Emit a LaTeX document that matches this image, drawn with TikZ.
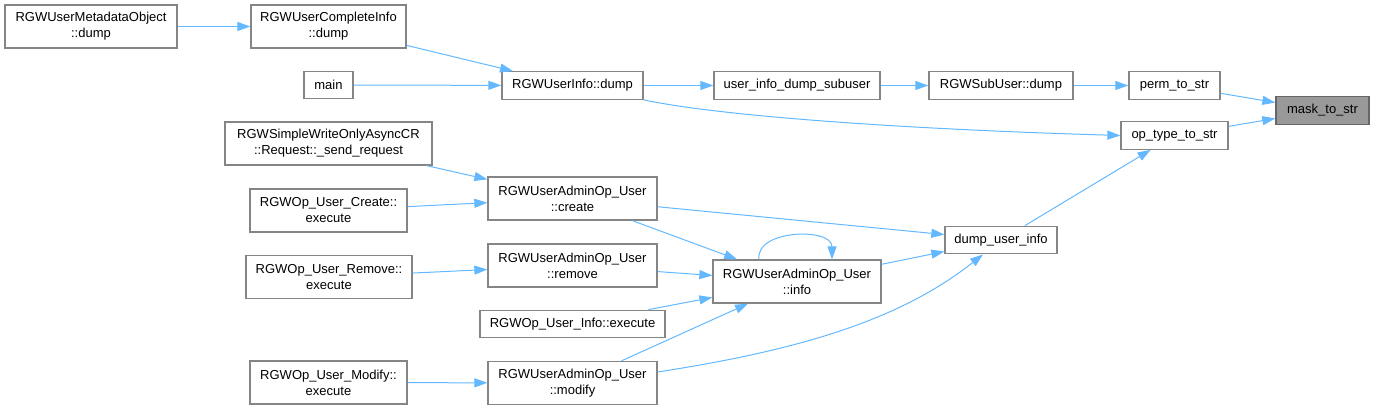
\documentclass[tikz,border=0pt]{standalone}
\usepackage{fontspec}
\setmainfont{Liberation Sans}
\usetikzlibrary{arrows.meta}
\definecolor{edgeblue}{HTML}{63B8FF}
\definecolor{nodegray}{HTML}{858585}
\definecolor{hilite}{HTML}{999999}
\begin{document}
\begin{tikzpicture}[x=1pt,y=-1pt,
  box/.style={draw=nodegray, fill=white, line width=1.3pt, inner sep=0pt, align=center,
    font=\fontsize{13}{16}\selectfont, text=black},
  tall/.style={box, minimum height=43pt},
  flat/.style={box, minimum height=27.5pt},
  edge/.style={draw=edgeblue, line width=1pt, -{Triangle[length=13pt,width=9pt]}}]
\useasboundingbox (0,0) rectangle (1375,409);

% column 1
\node[tall, minimum width=172pt] (meta) at (91,26.5) {RGWUserMetadataObject\\::dump};
% column 2
\node[tall, minimum width=155pt] (complete) at (328.5,26.5) {RGWUserCompleteInfo\\::dump};
\node[flat, minimum width=49pt] (main) at (328.5,85) {main};
\node[tall, minimum width=207pt] (sendreq) at (328.5,143.5) {RGWSimpleWriteOnlyAsyncCR\\::Request::\_send\_request};
\node[tall, minimum width=157pt] (cexec) at (328.5,210.5) {RGWOp\_User\_Create::\\execute};
\node[tall, minimum width=166pt] (rexec) at (329,277) {RGWOp\_User\_Remove::\\execute};
\node[tall, minimum width=157pt] (mexec) at (328.5,382.5) {RGWOp\_User\_Modify::\\execute};
% column 3
\node[flat, minimum width=141pt] (uinfo) at (572.5,85.5) {RGWUserInfo::dump};
\node[tall, minimum width=169pt] (create) at (572.5,198.5) {RGWUserAdminOp\_User\\::create};
\node[tall, minimum width=169pt] (remove) at (572.5,265.5) {RGWUserAdminOp\_User\\::remove};
\node[flat, minimum width=185pt] (uiexec) at (572.5,324) {RGWOp\_User\_Info::execute};
\node[tall, minimum width=169pt] (modify) at (572.5,383) {RGWUserAdminOp\_User\\::modify};
% column 4
\node[flat, minimum width=166pt] (subuser) at (797,85.5) {user\_info\_dump\_subuser};
\node[tall, minimum width=168pt] (info) at (797,281.5) {RGWUserAdminOp\_User\\::info};
% column 5
\node[flat, minimum width=144pt] (subdump) at (1001,85.5) {RGWSubUser::dump};
\node[flat, minimum width=112pt] (dumpuser) at (1001,240) {dump\_user\_info};
% column 6
\node[flat, minimum width=91pt] (perm) at (1174.5,85.5) {perm\_to\_str};
\node[flat, minimum width=107pt] (optype) at (1174.5,135.5) {op\_type\_to\_str};
% column 7
\node[flat, minimum width=93pt, fill=hilite, draw=black!60] (mask) at (1322.5,110.5) {mask\_to\_str};

% edges
\draw[edge] (meta) -- (complete);
\draw[edge] (complete) -- (uinfo);
\draw[edge] (main) -- (uinfo);
\draw[edge] (uinfo) -- (subuser);
\draw[edge] (subuser) -- (subdump);
\draw[edge] (subdump) -- (perm);
\draw[edge] (perm) -- (mask);
\draw[edge] (optype) -- (mask);
\draw[edge] (uinfo.south east) .. controls (720,116) and (900,129) .. (optype.west);
\draw[edge] (dumpuser) -- (optype);
\draw[edge] (sendreq) -- (create);
\draw[edge] (cexec) -- (create);
\draw[edge] (rexec) -- (remove);
\draw[edge] (mexec) -- (modify);
\draw[edge] (create) -- (dumpuser);
\draw[edge] (create) -- (info);
\draw[edge] (remove) -- (info);
\draw[edge] (uiexec) -- (info);
\draw[edge] (modify) -- (info);
\draw[edge] (info) -- (dumpuser);
\draw[edge] ([yshift=11pt]modify.east) .. controls (800,350) and (900,320) .. ([xshift=-18pt]dumpuser.south);
\draw[edge] ([xshift=-38pt]info.north) .. controls +(-4,-30) and +(0,-32) .. ([xshift=35pt]info.north);
\end{tikzpicture}
\end{document}
